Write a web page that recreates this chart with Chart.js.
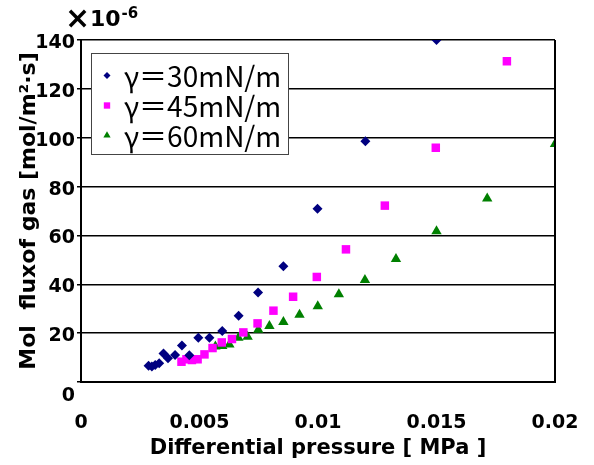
<!DOCTYPE html>
<html>
<head>
<meta charset="utf-8">
<script src="https://cdn.jsdelivr.net/npm/chart.js@4/dist/chart.umd.min.js"></script>
<style>
  body { margin: 0; background: #fff; }
</style>
</head>
<body>
<canvas id="flux_chart" width="594" height="465"></canvas>
<script>
// differential pressure [MPa] and mol flux [x10^-6 mol/m2.s] per surface tension
const pressure30 = [0.00285, 0.00299, 0.00313, 0.0033, 0.00348, 0.00367, 0.00397, 0.00426, 0.00457, 0.00495, 0.00542, 0.00596, 0.00665, 0.00747, 0.00854, 0.00998, 0.0120, 0.0150];
const flux30 = [6.7, 6.3, 7.0, 7.7, 11.7, 9.7, 11.1, 14.9, 10.9, 18.1, 18.1, 20.9, 27.1, 36.6, 47.4, 70.9, 98.6, 140];

const pressure45 = [0.00424, 0.00445, 0.00468, 0.00492, 0.00521, 0.00555, 0.00594, 0.00637, 0.00685, 0.00745, 0.00812, 0.00895, 0.00995, 0.01118, 0.01282, 0.01497, 0.01797];
const flux45 = [8.3, 9.3, 9.0, 9.3, 11.3, 13.9, 16.2, 17.6, 20.3, 24.0, 29.2, 34.9, 43.0, 54.3, 72.2, 95.9, 131.3];

const pressure60 = [0.00567, 0.00596, 0.00626, 0.00664, 0.00703, 0.00748, 0.00795, 0.00854, 0.00922, 0.00999, 0.01088, 0.01198, 0.01329, 0.0150, 0.01714, 0.0200];
const flux60 = [14.5, 14.7, 15.3, 18.1, 18.5, 21.4, 22.9, 24.6, 27.5, 31.0, 35.9, 41.8, 50.3, 61.7, 75.1, 97.4];

const seriesLabels = ['γ＝30mN/m', 'γ＝45mN/m', 'γ＝60mN/m'];
const xTitle = 'Differential pressure [ MPa ]';
const yTitle = 'Mol  fluxof gas [mol/m²·s]';
const yUnit = '10';
const yExp = '-6';

const toPoints = (xs, ys) => xs.map((x, i) => ({ x: x, y: ys[i] }));

// legend drawn inside the plot, plus the right frame edge and the exponent note
const legendBox = {
  id: 'legendBox',
  afterDraw(chart) {
    const ctx = chart.ctx;
    const area = chart.chartArea;
    ctx.save();

    // right edge of the plot frame
    ctx.strokeStyle = '#000';
    ctx.lineWidth = 2;
    ctx.beginPath();
    ctx.moveTo(area.right, area.top);
    ctx.lineTo(area.right, area.bottom);
    ctx.stroke();

    // exponent above the y axis
    ctx.fillStyle = '#000';
    ctx.textBaseline = 'alphabetic';
    ctx.textAlign = 'left';
    ctx.font = 'bold 30px "DejaVu Sans"';
    ctx.fillText('×', 65, 28);
    ctx.font = 'bold 22px "DejaVu Sans"';
    ctx.fillText(yUnit, 90, 26);
    const w = ctx.measureText(yUnit).width;
    ctx.font = 'bold 15px "DejaVu Sans"';
    ctx.fillText(yExp, 90 + w + 1, 18);

    // legend frame
    const bx = 91.5, by = 53.5, bw = 197, bh = 101;
    ctx.fillStyle = '#fff';
    ctx.fillRect(bx, by, bw, bh);
    ctx.strokeStyle = '#444';
    ctx.lineWidth = 1;
    ctx.strokeRect(bx, by, bw, bh);

    const sizes = [3.5, 4.5, 4.2];
    chart.data.datasets.forEach((ds, i) => {
      const cy = by + 22 + i * 30;
      ctx.fillStyle = ds.backgroundColor;
      Chart.helpers.drawPoint(ctx, {
        pointStyle: ds.pointStyle,
        radius: sizes[i],
        rotation: 0,
        borderWidth: 0
      }, 107, cy);
      ctx.fillStyle = '#000';
      ctx.font = '28px "Noto Sans CJK JP"';
      ctx.textBaseline = 'middle';
      ctx.fillText(ds.label, 124, cy + 1);
    });
    ctx.restore();
  }
};

const ctx = document.getElementById('flux_chart').getContext('2d');

new Chart(ctx, {
  type: 'scatter',
  data: {
    datasets: [{
      label: seriesLabels[0],
      data: toPoints(pressure30, flux30),
      pointStyle: 'rectRot',
      backgroundColor: '#000080',
      borderWidth: 0,
      pointRadius: 5
    }, {
      label: seriesLabels[1],
      data: toPoints(pressure45, flux45),
      pointStyle: 'rect',
      backgroundColor: '#ff00ff',
      borderWidth: 0,
      pointRadius: 6
    }, {
      label: seriesLabels[2],
      data: toPoints(pressure60, flux60),
      pointStyle: 'triangle',
      backgroundColor: '#008000',
      borderWidth: 0,
      pointRadius: 6
    }]
  },
  options: {
    responsive: false,
    animation: false,
    layout: {
      padding: { left: 0, right: 39, top: 40, bottom: 0 }
    },
    plugins: {
      legend: { display: false },
      tooltip: { enabled: false }
    },
    scales: {
      x: {
        type: 'linear',
        min: 0,
        max: 0.02,
        afterFit: (scale) => {
          scale.height = 83;
          scale.paddingLeft = 0;
          scale.paddingRight = 0;
        },
        grid: { display: false },
        border: { color: '#000', width: 2 },
        ticks: {
          stepSize: 0.005,
          padding: 22,
          color: '#000',
          font: { family: 'DejaVu Sans', size: 19, weight: 'bold' },
          callback: (v) => String(Math.round(v * 1000) / 1000)
        },
        title: {
          display: true,
          text: xTitle,
          color: '#000',
          font: { family: 'DejaVu Sans', size: 21, weight: 'bold' },
          padding: { top: 0, bottom: 4 }
        }
      },
      y: {
        min: 0,
        max: 140,
        afterFit: (scale) => { scale.width = 81; },
        grid: {
          color: '#000',
          lineWidth: 1.5,
          tickLength: 4
        },
        border: { color: '#000', width: 2 },
        ticks: {
          stepSize: 20,
          padding: 2,
          labelOffset: 3,
          color: '#000',
          font: { family: 'DejaVu Sans', size: 19, weight: 'bold' },
          callback: (v) => v === 0 ? ['', '0'] : String(v)
        },
        title: {
          display: true,
          text: yTitle,
          color: '#000',
          font: { family: 'DejaVu Sans', size: 22, weight: 'bold' },
          padding: { top: 16, bottom: 0 }
        }
      }
    }
  },
  plugins: [legendBox]
});
</script>
</body>
</html>
